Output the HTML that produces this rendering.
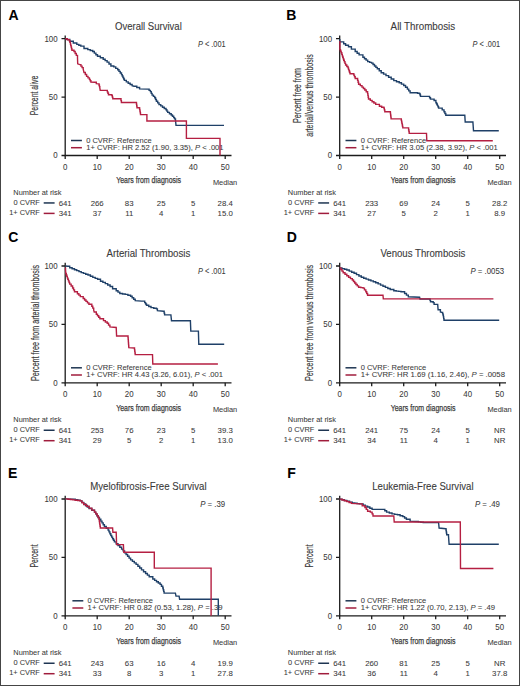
<!DOCTYPE html>
<html><head><meta charset="utf-8"><style>
html,body{margin:0;padding:0;background:#fff;}
body{width:520px;height:686px;overflow:hidden;position:relative;}
svg{position:absolute;left:0;top:0;display:block;}
text{font-family:"Liberation Sans",sans-serif;fill:#3a3a3a;stroke:#3a3a3a;stroke-width:0.06px;}
.s{font-size:8.0px;}
.l{font-size:8.1px;}
.t{font-size:10.3px;stroke-width:0.1px;}
.c{font-size:9.3px;}
.c2{font-size:10.6px;stroke-width:0.18px;}
.pv{font-size:8.6px;}
.tk{font-size:8.6px;}
.n{font-size:8.1px;}
.b{font-size:14px;font-weight:bold;fill:#000;}
.ax{stroke:#1c1c1c;stroke-width:1.3;fill:none;}
.cb{stroke:#1f4068;stroke-width:1.4;fill:none;stroke-linejoin:miter;}
.cr{stroke:#b51f42;stroke-width:1.4;fill:none;stroke-linejoin:miter;}
</style></head><body>
<svg width="520" height="686" viewBox="0 0 520 686">
<rect x="0.5" y="0.5" width="519" height="685" fill="#fff" stroke="#454545" stroke-width="1"/>

<text class="b" x="8.5" y="19.7">A</text>
<g transform="translate(0,0)"><path class="ax" d="M65.2,35.5V155.5H231.5"/>
<path class="ax" d="M61.5,38.7H65.2M61.5,97.1H65.2M61.5,155.5H65.2M65.2,155.5V158.9M97.2,155.5V158.9M129.2,155.5V158.9M161.2,155.5V158.9M193.2,155.5V158.9M225.2,155.5V158.9"/>
<text class="tk" x="57.6" y="41.5" text-anchor="end" textLength="13.18" lengthAdjust="spacingAndGlyphs">100</text>
<text class="tk" x="57.6" y="99.9" text-anchor="end" textLength="8.79" lengthAdjust="spacingAndGlyphs">50</text>
<text class="tk" x="57.6" y="158.3" text-anchor="end" textLength="4.39" lengthAdjust="spacingAndGlyphs">0</text>
<text class="tk" x="65.2" y="169.7" text-anchor="middle" textLength="4.39" lengthAdjust="spacingAndGlyphs">0</text>
<text class="tk" x="97.2" y="169.7" text-anchor="middle" textLength="8.79" lengthAdjust="spacingAndGlyphs">10</text>
<text class="tk" x="129.2" y="169.7" text-anchor="middle" textLength="8.79" lengthAdjust="spacingAndGlyphs">20</text>
<text class="tk" x="161.2" y="169.7" text-anchor="middle" textLength="8.79" lengthAdjust="spacingAndGlyphs">30</text>
<text class="tk" x="193.2" y="169.7" text-anchor="middle" textLength="8.79" lengthAdjust="spacingAndGlyphs">40</text>
<text class="tk" x="225.2" y="169.7" text-anchor="middle" textLength="8.79" lengthAdjust="spacingAndGlyphs">50</text>
<text class="c" x="116.2" y="183.4" textLength="64.9" lengthAdjust="spacingAndGlyphs" style="stroke-width:0.25px;font-size:9.7px">Years from diagnosis</text>
<text class="s" x="225.1" y="184.6" text-anchor="middle" textLength="24.27" lengthAdjust="spacingAndGlyphs">Median</text>
<text class="t" x="115" y="29.5" textLength="66.8" lengthAdjust="spacingAndGlyphs">Overall Survival</text>
<text class="pv" x="198" y="46.5" textLength="27.6" lengthAdjust="spacingAndGlyphs"><tspan font-style="italic">P</tspan> &lt; .001</text>
<path d="M71,140.5H81.9" stroke="#1e3552" stroke-width="1.5"/>
<path d="M71,147.7H81.9" stroke="#a01c3c" stroke-width="1.5"/>
<text class="l" x="86.2" y="142.9" textLength="65.4" lengthAdjust="spacingAndGlyphs">0 CVRF: Reference</text>
<text class="l" x="86.2" y="149.9" textLength="137.4" lengthAdjust="spacingAndGlyphs">1+ CVRF: HR 2.52 (1.90, 3.35), <tspan font-style="italic">P</tspan> &lt; .001</text>
<text class="s" x="13.3" y="195.1" textLength="48.11" lengthAdjust="spacingAndGlyphs">Number at risk</text>
<text class="s" x="39.8" y="205.2" text-anchor="end" textLength="26.32" lengthAdjust="spacingAndGlyphs">0 CVRF</text>
<text class="s" x="39.8" y="215.2" text-anchor="end" textLength="30.64" lengthAdjust="spacingAndGlyphs">1+ CVRF</text>
<path d="M43.7,202.95H54.6" stroke="#1e3552" stroke-width="1.5"/>
<path d="M43.7,213.4H54.6" stroke="#a01c3c" stroke-width="1.5"/>
<text class="n" x="65.2" y="205.5" text-anchor="middle" textLength="13.01" lengthAdjust="spacingAndGlyphs">641</text>
<text class="n" x="65.2" y="215.6" text-anchor="middle" textLength="13.01" lengthAdjust="spacingAndGlyphs">341</text>
<text class="n" x="97.2" y="205.5" text-anchor="middle" textLength="13.01" lengthAdjust="spacingAndGlyphs">266</text>
<text class="n" x="97.2" y="215.6" text-anchor="middle" textLength="8.68" lengthAdjust="spacingAndGlyphs">37</text>
<text class="n" x="129.2" y="205.5" text-anchor="middle" textLength="8.68" lengthAdjust="spacingAndGlyphs">83</text>
<text class="n" x="129.2" y="215.6" text-anchor="middle" textLength="8.1" lengthAdjust="spacingAndGlyphs">11</text>
<text class="n" x="161.2" y="205.5" text-anchor="middle" textLength="8.68" lengthAdjust="spacingAndGlyphs">25</text>
<text class="n" x="161.2" y="215.6" text-anchor="middle" textLength="4.34" lengthAdjust="spacingAndGlyphs">4</text>
<text class="n" x="193.2" y="205.5" text-anchor="middle" textLength="4.34" lengthAdjust="spacingAndGlyphs">5</text>
<text class="n" x="193.2" y="215.6" text-anchor="middle" textLength="4.34" lengthAdjust="spacingAndGlyphs">1</text>
<text class="n" x="225.2" y="205.5" text-anchor="middle" textLength="15.18" lengthAdjust="spacingAndGlyphs">28.4</text>
<text class="n" x="225.2" y="215.6" text-anchor="middle" textLength="15.18" lengthAdjust="spacingAndGlyphs">15.0</text></g>
<text class="c2" transform="translate(37.8,95.45) rotate(-90)" x="0" y="0" text-anchor="middle" textLength="39.6" lengthAdjust="spacingAndGlyphs">Percent alive</text>
<polyline class="cb" points="65.3,38.8 67.5,39.5 69.8,39.5 69.8,41.2 73.3,41.2 73.3,43 76.8,43 76.8,44.4 78.8,44.4 78.8,45.25 80.8,45.25 80.8,46.1 84,46.1 84,48.5 87.8,48.5 87.8,49.6 90.25,49.6 90.25,50.55 92.7,50.55 92.7,51.5 94.3,51.5 94.3,53.1 95.9,53.1 95.9,54.7 97.5,54.7 97.5,56.3 100.35,56.3 100.35,57.75 103.2,57.75 103.2,59.2 105.15,59.2 105.15,60.65 107.1,60.65 107.1,62.1 109,62.1 109,64.05 110.9,64.05 110.9,66 113.8,66 113.8,66.9 115.75,66.9 115.75,68.35 117.7,68.35 117.7,69.8 118.97,69.8 118.97,71.4 120.23,71.4 120.23,73 121.5,73 121.5,74.6 122.22,74.6 122.22,76.05 122.95,76.05 122.95,77.5 123.68,77.5 123.68,78.95 124.4,78.95 124.4,80.4 126.3,80.4 126.3,81.85 128.2,81.85 128.2,83.3 130.15,83.3 130.15,84.5 132.1,84.5 132.1,85.7 134,86.2 136.8,86.2 136.8,87.55 139.6,87.55 139.6,88.9 147.8,89.1 149.1,89.1 149.1,90.35 150.4,90.35 150.4,91.6 151.25,91.6 151.25,93.35 152.1,93.35 152.1,95.1 153.4,95.1 153.4,96.4 154.7,96.4 154.7,97.7 155.55,97.7 155.55,99.45 156.4,99.45 156.4,101.2 157.7,101.2 157.7,102.9 159,102.9 159,104.6 160.75,104.6 160.75,105.9 162.5,105.9 162.5,107.2 164.25,107.2 164.25,108.5 166,108.5 166,109.8 166.85,109.8 166.85,111.1 167.7,111.1 167.7,112.4 169.45,112.4 169.45,113.7 171.2,113.7 171.2,115 172.45,115 172.45,116.3 173.7,116.3 173.7,117.6 174.6,117.6 174.6,118.9 175.5,118.9 175.5,120.2 176,125.4 224,125.4"/>
<polyline class="cr" points="65.3,38.8 67.3,38.8 67.3,39.75 69.3,39.75 69.3,40.7 69.85,40.7 69.85,42.4 70.4,42.4 70.4,44.1 70.78,44.1 70.78,45.62 71.15,45.62 71.15,47.15 71.53,47.15 71.53,48.68 71.9,48.68 71.9,50.2 74,50.2 74,51.5 75.15,51.5 75.15,53.45 76.3,53.45 76.3,55.4 77.5,55.4 77.5,57.7 77.7,63.8 79.8,64.6 80.93,64.6 80.93,66.13 82.07,66.13 82.07,67.67 83.2,67.67 83.2,69.2 84,72.5 85.3,72.5 85.3,74.45 86.6,74.45 86.6,76.4 88,76.4 88,77.9 89.4,77.9 89.4,79.4 90.15,79.4 90.15,80.75 90.9,80.75 90.9,82.1 94.8,82.3 96.3,82.3 96.3,83.6 98.7,83.9 99.07,83.9 99.07,85.27 99.43,85.27 99.43,86.63 99.8,86.63 99.8,88 100.2,90.2 106.7,90.4 107.3,90.4 107.3,91.83 107.9,91.83 107.9,93.27 108.5,93.27 108.5,94.7 111.9,94.7 111.9,95.6 112.35,95.6 112.35,97.15 112.8,97.15 112.8,98.7 120.6,98.7 121,98.7 121,100.6 121.4,100.6 121.4,102.5 136.2,102.5 136.47,102.5 136.47,104.23 136.73,104.23 136.73,105.97 137,105.97 137,107.7 139.6,107.7 139.6,109.4 139.9,109.4 139.9,111.13 140.2,111.13 140.2,112.87 140.5,112.87 140.5,114.6 146.9,114.6 146.9,121 186.4,121 186.4,138.4 220,138.4 220,155.5"/>
<text class="b" x="286.2" y="20.3">B</text>
<g transform="translate(274.5,0)"><path class="ax" d="M65.2,35.5V155.5H231.5"/>
<path class="ax" d="M61.5,38.7H65.2M61.5,97.1H65.2M61.5,155.5H65.2M65.2,155.5V158.9M97.2,155.5V158.9M129.2,155.5V158.9M161.2,155.5V158.9M193.2,155.5V158.9M225.2,155.5V158.9"/>
<text class="tk" x="57.6" y="41.5" text-anchor="end" textLength="13.18" lengthAdjust="spacingAndGlyphs">100</text>
<text class="tk" x="57.6" y="99.9" text-anchor="end" textLength="8.79" lengthAdjust="spacingAndGlyphs">50</text>
<text class="tk" x="57.6" y="158.3" text-anchor="end" textLength="4.39" lengthAdjust="spacingAndGlyphs">0</text>
<text class="tk" x="65.2" y="169.7" text-anchor="middle" textLength="4.39" lengthAdjust="spacingAndGlyphs">0</text>
<text class="tk" x="97.2" y="169.7" text-anchor="middle" textLength="8.79" lengthAdjust="spacingAndGlyphs">10</text>
<text class="tk" x="129.2" y="169.7" text-anchor="middle" textLength="8.79" lengthAdjust="spacingAndGlyphs">20</text>
<text class="tk" x="161.2" y="169.7" text-anchor="middle" textLength="8.79" lengthAdjust="spacingAndGlyphs">30</text>
<text class="tk" x="193.2" y="169.7" text-anchor="middle" textLength="8.79" lengthAdjust="spacingAndGlyphs">40</text>
<text class="tk" x="225.2" y="169.7" text-anchor="middle" textLength="8.79" lengthAdjust="spacingAndGlyphs">50</text>
<text class="c" x="116.2" y="183.4" textLength="64.9" lengthAdjust="spacingAndGlyphs" style="stroke-width:0.25px;font-size:9.7px">Years from diagnosis</text>
<text class="s" x="225.1" y="184.6" text-anchor="middle" textLength="24.27" lengthAdjust="spacingAndGlyphs">Median</text>
<text class="t" x="116.1" y="29.5" textLength="64.6" lengthAdjust="spacingAndGlyphs">All Thrombosis</text>
<text class="pv" x="198" y="46.5" textLength="27.6" lengthAdjust="spacingAndGlyphs"><tspan font-style="italic">P</tspan> &lt; .001</text>
<path d="M71,140.5H81.9" stroke="#1e3552" stroke-width="1.5"/>
<path d="M71,147.7H81.9" stroke="#a01c3c" stroke-width="1.5"/>
<text class="l" x="86.2" y="142.9" textLength="65.4" lengthAdjust="spacingAndGlyphs">0 CVRF: Reference</text>
<text class="l" x="86.2" y="149.9" textLength="137" lengthAdjust="spacingAndGlyphs">1+ CVRF: HR 3.05 (2.38, 3.92), <tspan font-style="italic">P</tspan> &lt; .001</text>
<text class="s" x="13.3" y="195.1" textLength="48.11" lengthAdjust="spacingAndGlyphs">Number at risk</text>
<text class="s" x="39.8" y="205.2" text-anchor="end" textLength="26.32" lengthAdjust="spacingAndGlyphs">0 CVRF</text>
<text class="s" x="39.8" y="215.2" text-anchor="end" textLength="30.64" lengthAdjust="spacingAndGlyphs">1+ CVRF</text>
<path d="M43.7,202.95H54.6" stroke="#1e3552" stroke-width="1.5"/>
<path d="M43.7,213.4H54.6" stroke="#a01c3c" stroke-width="1.5"/>
<text class="n" x="65.2" y="205.5" text-anchor="middle" textLength="13.01" lengthAdjust="spacingAndGlyphs">641</text>
<text class="n" x="65.2" y="215.6" text-anchor="middle" textLength="13.01" lengthAdjust="spacingAndGlyphs">341</text>
<text class="n" x="97.2" y="205.5" text-anchor="middle" textLength="13.01" lengthAdjust="spacingAndGlyphs">233</text>
<text class="n" x="97.2" y="215.6" text-anchor="middle" textLength="8.68" lengthAdjust="spacingAndGlyphs">27</text>
<text class="n" x="129.2" y="205.5" text-anchor="middle" textLength="8.68" lengthAdjust="spacingAndGlyphs">69</text>
<text class="n" x="129.2" y="215.6" text-anchor="middle" textLength="4.34" lengthAdjust="spacingAndGlyphs">5</text>
<text class="n" x="161.2" y="205.5" text-anchor="middle" textLength="8.68" lengthAdjust="spacingAndGlyphs">24</text>
<text class="n" x="161.2" y="215.6" text-anchor="middle" textLength="4.34" lengthAdjust="spacingAndGlyphs">2</text>
<text class="n" x="193.2" y="205.5" text-anchor="middle" textLength="4.34" lengthAdjust="spacingAndGlyphs">5</text>
<text class="n" x="193.2" y="215.6" text-anchor="middle" textLength="4.34" lengthAdjust="spacingAndGlyphs">1</text>
<text class="n" x="225.2" y="205.5" text-anchor="middle" textLength="15.18" lengthAdjust="spacingAndGlyphs">28.2</text>
<text class="n" x="225.2" y="215.6" text-anchor="middle" textLength="10.84" lengthAdjust="spacingAndGlyphs">8.9</text></g>
<text class="c2" transform="translate(301,95.45) rotate(-90)" x="0" y="0" text-anchor="middle" textLength="55" lengthAdjust="spacingAndGlyphs">Percent free from</text>
<text class="c2" transform="translate(312.8,95.45) rotate(-90)" x="0" y="0" text-anchor="middle" textLength="82.6" lengthAdjust="spacingAndGlyphs">arterial/venous thrombosis</text>
<polyline class="cb" points="339.8,38.9 339.8,41.9 343.7,41.9 343.7,43.8 345.6,43.8 345.6,45.3 348.5,45.3 348.5,46.7 351.4,46.7 351.4,49.1 355.2,49.1 355.2,51.5 357.15,51.5 357.15,53.2 359.1,53.2 359.1,54.9 362.9,54.9 362.9,57.3 364.5,57.3 364.5,58.73 366.1,58.73 366.1,60.17 367.7,60.17 367.7,61.6 369.65,61.6 369.65,62.35 371.6,62.35 371.6,63.1 373.05,63.1 373.05,64.55 374.5,64.55 374.5,66 375.9,66 375.9,67.4 377.3,67.4 377.3,68.8 379.25,68.8 379.25,70.75 381.2,70.75 381.2,72.7 383.6,72.7 383.6,74.15 386,74.15 386,75.6 388.6,75.6 388.6,77.27 391.2,77.27 391.2,78.93 393.8,78.93 393.8,80.6 396.5,80.6 396.5,81.7 399.2,81.7 399.2,82.8 401.45,82.8 401.45,84.15 403.7,84.15 403.7,85.5 405.55,85.5 405.55,87.3 407.4,87.3 407.4,89.1 408.75,89.1 408.75,90.9 410.1,90.9 410.1,92.7 415.5,92.7 417.55,92.7 417.55,93.2 419.6,93.2 419.6,93.7 420.05,93.7 420.05,95.05 420.5,95.05 420.5,96.4 428.7,96.4 429.6,96.4 429.6,97.75 430.5,97.75 430.5,99.1 434.1,99.1 434.1,100.5 435.9,100.5 435.9,102.7 436.6,102.7 436.6,104.05 437.3,104.05 437.3,105.4 437.95,105.4 437.95,106.75 438.6,106.75 438.6,108.1 442.2,108.1 442.2,109.9 444,109.9 444,111.7 444.9,111.7 444.9,113.5 445.8,113.5 445.8,115.3 464.8,115.3 465.2,122 472.9,122 473.5,130.7 498.8,130.7"/>
<polyline class="cr" points="339.9,41 339.9,49.6 340.53,49.6 340.53,51.2 341.17,51.2 341.17,52.8 341.8,52.8 341.8,54.4 342.27,54.4 342.27,55.85 342.75,55.85 342.75,57.3 343.23,57.3 343.23,58.75 343.7,58.75 343.7,60.2 344.33,60.2 344.33,61.8 344.97,61.8 344.97,63.4 345.6,63.4 345.6,65 346.8,65 346.8,66.45 348,66.45 348,67.9 348.5,67.9 348.5,69.35 349,69.35 349,70.8 349.5,70.8 349.5,72.25 350,72.25 350,73.7 353.8,73.7 353.8,75.1 354.5,75.1 354.5,76.8 355.2,76.8 355.2,78.5 357.6,78.5 357.6,80.4 358.1,80.4 358.1,82.3 358.6,82.3 358.6,84.2 360.3,84.2 360.3,85.65 362,85.65 362,87.1 363.4,87.1 363.4,88.55 364.8,88.55 364.8,90 366.2,90 366.2,91.8 367.6,91.8 367.6,93.6 367.9,93.6 367.9,95.4 368.2,95.4 368.2,97.2 368.5,97.2 368.5,99 370.3,99 370.3,100.35 372.1,100.35 372.1,101.7 373.9,101.7 373.9,103.05 375.7,103.05 375.7,104.4 379.4,104.4 379.4,106.3 381.65,106.3 381.65,107.2 383.9,107.2 383.9,108.1 384.35,108.1 384.35,109.9 384.8,109.9 384.8,111.7 390.2,111.7 390.38,111.7 390.38,113.14 390.56,113.14 390.56,114.58 390.74,114.58 390.74,116.02 390.92,116.02 390.92,117.46 391.1,117.46 391.1,118.9 401,118.9 401.3,118.9 401.3,120.4 401.6,120.4 401.6,121.9 401.9,121.9 401.9,123.4 402.2,123.4 402.2,124.9 402.5,124.9 402.5,126.4 402.8,126.4 402.8,127.9 408.3,127.9 408.6,127.9 408.6,129.73 408.9,129.73 408.9,131.57 409.2,131.57 409.2,133.4 426.5,133.4 426.8,140.7 492.8,140.7"/>
<text class="b" x="8.2" y="242.3">C</text>
<g transform="translate(0,227.3)"><path class="ax" d="M65.2,35.5V155.5H231.5"/>
<path class="ax" d="M61.5,38.7H65.2M61.5,97.1H65.2M61.5,155.5H65.2M65.2,155.5V158.9M97.2,155.5V158.9M129.2,155.5V158.9M161.2,155.5V158.9M193.2,155.5V158.9M225.2,155.5V158.9"/>
<text class="tk" x="57.6" y="41.5" text-anchor="end" textLength="13.18" lengthAdjust="spacingAndGlyphs">100</text>
<text class="tk" x="57.6" y="99.9" text-anchor="end" textLength="8.79" lengthAdjust="spacingAndGlyphs">50</text>
<text class="tk" x="57.6" y="158.3" text-anchor="end" textLength="4.39" lengthAdjust="spacingAndGlyphs">0</text>
<text class="tk" x="65.2" y="169.7" text-anchor="middle" textLength="4.39" lengthAdjust="spacingAndGlyphs">0</text>
<text class="tk" x="97.2" y="169.7" text-anchor="middle" textLength="8.79" lengthAdjust="spacingAndGlyphs">10</text>
<text class="tk" x="129.2" y="169.7" text-anchor="middle" textLength="8.79" lengthAdjust="spacingAndGlyphs">20</text>
<text class="tk" x="161.2" y="169.7" text-anchor="middle" textLength="8.79" lengthAdjust="spacingAndGlyphs">30</text>
<text class="tk" x="193.2" y="169.7" text-anchor="middle" textLength="8.79" lengthAdjust="spacingAndGlyphs">40</text>
<text class="tk" x="225.2" y="169.7" text-anchor="middle" textLength="8.79" lengthAdjust="spacingAndGlyphs">50</text>
<text class="c" x="116.2" y="183.4" textLength="64.9" lengthAdjust="spacingAndGlyphs" style="stroke-width:0.25px;font-size:9.7px">Years from diagnosis</text>
<text class="s" x="225.1" y="184.6" text-anchor="middle" textLength="24.27" lengthAdjust="spacingAndGlyphs">Median</text>
<text class="t" x="106.5" y="29.5" textLength="83.8" lengthAdjust="spacingAndGlyphs">Arterial Thrombosis</text>
<text class="pv" x="198" y="46.5" textLength="27.6" lengthAdjust="spacingAndGlyphs"><tspan font-style="italic">P</tspan> &lt; .001</text>
<path d="M71,140.5H81.9" stroke="#1e3552" stroke-width="1.5"/>
<path d="M71,147.7H81.9" stroke="#a01c3c" stroke-width="1.5"/>
<text class="l" x="86.2" y="142.9" textLength="65.4" lengthAdjust="spacingAndGlyphs">0 CVRF: Reference</text>
<text class="l" x="86.2" y="149.9" textLength="136.7" lengthAdjust="spacingAndGlyphs">1+ CVRF: HR 4.43 (3.26, 6.01), <tspan font-style="italic">P</tspan> &lt; .001</text>
<text class="s" x="13.3" y="195.1" textLength="48.11" lengthAdjust="spacingAndGlyphs">Number at risk</text>
<text class="s" x="39.8" y="205.2" text-anchor="end" textLength="26.32" lengthAdjust="spacingAndGlyphs">0 CVRF</text>
<text class="s" x="39.8" y="215.2" text-anchor="end" textLength="30.64" lengthAdjust="spacingAndGlyphs">1+ CVRF</text>
<path d="M43.7,202.95H54.6" stroke="#1e3552" stroke-width="1.5"/>
<path d="M43.7,213.4H54.6" stroke="#a01c3c" stroke-width="1.5"/>
<text class="n" x="65.2" y="205.5" text-anchor="middle" textLength="13.01" lengthAdjust="spacingAndGlyphs">641</text>
<text class="n" x="65.2" y="215.6" text-anchor="middle" textLength="13.01" lengthAdjust="spacingAndGlyphs">341</text>
<text class="n" x="97.2" y="205.5" text-anchor="middle" textLength="13.01" lengthAdjust="spacingAndGlyphs">253</text>
<text class="n" x="97.2" y="215.6" text-anchor="middle" textLength="8.68" lengthAdjust="spacingAndGlyphs">29</text>
<text class="n" x="129.2" y="205.5" text-anchor="middle" textLength="8.68" lengthAdjust="spacingAndGlyphs">76</text>
<text class="n" x="129.2" y="215.6" text-anchor="middle" textLength="4.34" lengthAdjust="spacingAndGlyphs">5</text>
<text class="n" x="161.2" y="205.5" text-anchor="middle" textLength="8.68" lengthAdjust="spacingAndGlyphs">23</text>
<text class="n" x="161.2" y="215.6" text-anchor="middle" textLength="4.34" lengthAdjust="spacingAndGlyphs">2</text>
<text class="n" x="193.2" y="205.5" text-anchor="middle" textLength="4.34" lengthAdjust="spacingAndGlyphs">5</text>
<text class="n" x="193.2" y="215.6" text-anchor="middle" textLength="4.34" lengthAdjust="spacingAndGlyphs">1</text>
<text class="n" x="225.2" y="205.5" text-anchor="middle" textLength="15.18" lengthAdjust="spacingAndGlyphs">39.3</text>
<text class="n" x="225.2" y="215.6" text-anchor="middle" textLength="15.18" lengthAdjust="spacingAndGlyphs">13.0</text></g>
<text class="c2" transform="translate(38.5,323) rotate(-90)" x="0" y="0" text-anchor="middle" textLength="116.2" lengthAdjust="spacingAndGlyphs">Percent free from arterial thrombosis</text>
<polyline class="cb" points="65.4,266 67.8,266.3 69.7,266.3 69.7,267.8 72.1,267.8 72.1,268.75 74.5,268.75 74.5,269.7 76.73,269.7 76.73,270.67 78.97,270.67 78.97,271.63 81.2,271.63 81.2,272.6 83.47,272.6 83.47,273.4 85.73,273.4 85.73,274.2 88,274.2 88,275 90.4,275 90.4,276.2 92.8,276.2 92.8,277.4 95.2,277.4 95.2,278.35 97.6,278.35 97.6,279.3 100.5,279.3 100.5,281.2 102.9,281.2 102.9,282.4 105.3,282.4 105.3,283.6 107.7,283.6 107.7,285.05 110.1,285.05 110.1,286.5 112.6,286.5 112.6,288.8 116.2,288.8 116.2,290.8 118,290.8 118,292.15 119.8,292.15 119.8,293.5 122.5,293.5 122.5,293.95 125.2,293.95 125.2,294.4 127.9,294.4 127.9,295.3 130.6,295.3 130.6,296.2 132.13,296.2 132.13,297.7 133.67,297.7 133.67,299.2 135.2,299.2 135.2,300.7 141.5,301.1 144.7,301.1 144.7,302.6 145.6,302.6 145.6,303.95 146.5,303.95 146.5,305.3 148.75,305.3 148.75,306.45 151,306.45 151,307.6 153.75,307.6 153.75,308.25 156.5,308.25 156.5,308.9 157.4,308.9 157.4,310.7 163.7,311.3 164.15,311.3 164.15,313.1 164.6,313.1 164.6,314.9 170.9,314.9 171.5,320.7 190.4,320.7 190.8,331.1 198.4,331.1 198.8,344.2 224.2,344.2"/>
<polyline class="cr" points="65.5,267.5 65.5,269.2 65.8,273.5 66.3,273.5 66.3,274.95 66.8,274.95 66.8,276.4 67.3,276.4 67.3,277.85 67.8,277.85 67.8,279.3 68.43,279.3 68.43,280.9 69.07,280.9 69.07,282.5 69.7,282.5 69.7,284.1 71.15,284.1 71.15,286.05 72.6,286.05 72.6,288 73.55,288 73.55,289.9 74.5,289.9 74.5,291.8 77.4,291.8 77.4,293.7 78.85,293.7 78.85,295.15 80.3,295.15 80.3,296.6 83.2,296.6 83.2,298.5 84.6,298.5 84.6,299.95 86,299.95 86,301.4 87.45,301.4 87.45,302.85 88.9,302.85 88.9,304.3 91.8,304.3 91.8,306.2 92.75,306.2 92.75,308.15 93.7,308.15 93.7,310.1 94.2,312 96.3,312 96.3,314.3 97.5,314.3 97.5,315.8 98.7,315.8 98.7,317.3 99.9,317.3 99.9,318.8 103.5,318.8 103.5,320.6 105.35,320.6 105.35,321.95 107.2,321.95 107.2,323.3 108.55,323.3 108.55,325.1 109.9,325.1 109.9,326.9 116.2,327.5 116.6,336 127.9,336 128.03,336 128.03,337.67 128.16,337.67 128.16,339.34 128.29,339.34 128.29,341.01 128.41,341.01 128.41,342.69 128.54,342.69 128.54,344.36 128.67,344.36 128.67,346.03 128.8,346.03 128.8,347.7 134.3,348 134.53,348 134.53,349.65 134.75,349.65 134.75,351.3 134.97,351.3 134.97,352.95 135.2,352.95 135.2,354.6 152.5,354.6 152.8,364 217.9,364"/>
<text class="b" x="286.8" y="242.2">D</text>
<g transform="translate(274.5,227.3)"><path class="ax" d="M65.2,35.5V155.5H231.5"/>
<path class="ax" d="M61.5,38.7H65.2M61.5,97.1H65.2M61.5,155.5H65.2M65.2,155.5V158.9M97.2,155.5V158.9M129.2,155.5V158.9M161.2,155.5V158.9M193.2,155.5V158.9M225.2,155.5V158.9"/>
<text class="tk" x="57.6" y="41.5" text-anchor="end" textLength="13.18" lengthAdjust="spacingAndGlyphs">100</text>
<text class="tk" x="57.6" y="99.9" text-anchor="end" textLength="8.79" lengthAdjust="spacingAndGlyphs">50</text>
<text class="tk" x="57.6" y="158.3" text-anchor="end" textLength="4.39" lengthAdjust="spacingAndGlyphs">0</text>
<text class="tk" x="65.2" y="169.7" text-anchor="middle" textLength="4.39" lengthAdjust="spacingAndGlyphs">0</text>
<text class="tk" x="97.2" y="169.7" text-anchor="middle" textLength="8.79" lengthAdjust="spacingAndGlyphs">10</text>
<text class="tk" x="129.2" y="169.7" text-anchor="middle" textLength="8.79" lengthAdjust="spacingAndGlyphs">20</text>
<text class="tk" x="161.2" y="169.7" text-anchor="middle" textLength="8.79" lengthAdjust="spacingAndGlyphs">30</text>
<text class="tk" x="193.2" y="169.7" text-anchor="middle" textLength="8.79" lengthAdjust="spacingAndGlyphs">40</text>
<text class="tk" x="225.2" y="169.7" text-anchor="middle" textLength="8.79" lengthAdjust="spacingAndGlyphs">50</text>
<text class="c" x="116.2" y="183.4" textLength="64.9" lengthAdjust="spacingAndGlyphs" style="stroke-width:0.25px;font-size:9.7px">Years from diagnosis</text>
<text class="s" x="225.1" y="184.6" text-anchor="middle" textLength="24.27" lengthAdjust="spacingAndGlyphs">Median</text>
<text class="t" x="105.9" y="29.5" textLength="85" lengthAdjust="spacingAndGlyphs">Venous Thrombosis</text>
<text class="pv" x="196" y="46.5" textLength="33.6" lengthAdjust="spacingAndGlyphs"><tspan font-style="italic">P</tspan> = .0053</text>
<path d="M71,140.5H81.9" stroke="#1e3552" stroke-width="1.5"/>
<path d="M71,147.7H81.9" stroke="#a01c3c" stroke-width="1.5"/>
<text class="l" x="86.2" y="142.9" textLength="65.4" lengthAdjust="spacingAndGlyphs">0 CVRF: Reference</text>
<text class="l" x="86.2" y="149.9" textLength="144.3" lengthAdjust="spacingAndGlyphs">1+ CVRF: HR 1.69 (1.16, 2.46), <tspan font-style="italic">P</tspan> = .0058</text>
<text class="s" x="13.3" y="195.1" textLength="48.11" lengthAdjust="spacingAndGlyphs">Number at risk</text>
<text class="s" x="39.8" y="205.2" text-anchor="end" textLength="26.32" lengthAdjust="spacingAndGlyphs">0 CVRF</text>
<text class="s" x="39.8" y="215.2" text-anchor="end" textLength="30.64" lengthAdjust="spacingAndGlyphs">1+ CVRF</text>
<path d="M43.7,202.95H54.6" stroke="#1e3552" stroke-width="1.5"/>
<path d="M43.7,213.4H54.6" stroke="#a01c3c" stroke-width="1.5"/>
<text class="n" x="65.2" y="205.5" text-anchor="middle" textLength="13.01" lengthAdjust="spacingAndGlyphs">641</text>
<text class="n" x="65.2" y="215.6" text-anchor="middle" textLength="13.01" lengthAdjust="spacingAndGlyphs">341</text>
<text class="n" x="97.2" y="205.5" text-anchor="middle" textLength="13.01" lengthAdjust="spacingAndGlyphs">241</text>
<text class="n" x="97.2" y="215.6" text-anchor="middle" textLength="8.68" lengthAdjust="spacingAndGlyphs">34</text>
<text class="n" x="129.2" y="205.5" text-anchor="middle" textLength="8.68" lengthAdjust="spacingAndGlyphs">75</text>
<text class="n" x="129.2" y="215.6" text-anchor="middle" textLength="8.1" lengthAdjust="spacingAndGlyphs">11</text>
<text class="n" x="161.2" y="205.5" text-anchor="middle" textLength="8.68" lengthAdjust="spacingAndGlyphs">24</text>
<text class="n" x="161.2" y="215.6" text-anchor="middle" textLength="4.34" lengthAdjust="spacingAndGlyphs">4</text>
<text class="n" x="193.2" y="205.5" text-anchor="middle" textLength="4.34" lengthAdjust="spacingAndGlyphs">5</text>
<text class="n" x="193.2" y="215.6" text-anchor="middle" textLength="4.34" lengthAdjust="spacingAndGlyphs">1</text>
<text class="n" x="225.2" y="205.5" text-anchor="middle" textLength="11.27" lengthAdjust="spacingAndGlyphs">NR</text>
<text class="n" x="225.2" y="215.6" text-anchor="middle" textLength="11.27" lengthAdjust="spacingAndGlyphs">NR</text></g>
<text class="c2" transform="translate(313.2,323) rotate(-90)" x="0" y="0" text-anchor="middle" textLength="116.2" lengthAdjust="spacingAndGlyphs">Percent free from venous thrombosis</text>
<polyline class="cb" points="339.6,267.9 342,267.9 342,268.6 344.4,268.6 344.4,269.3 346.8,269.3 346.8,270 349.23,270 349.23,271.1 351.67,271.1 351.67,272.2 354.1,272.2 354.1,273.3 356.5,273.3 356.5,274.63 358.9,274.63 358.9,275.97 361.3,275.97 361.3,277.3 363.7,277.3 363.7,278.2 366.1,278.2 366.1,279.1 368.5,279.1 368.5,280 370.9,280 370.9,280.9 373.3,280.9 373.3,281.8 375.7,281.8 375.7,282.7 378.13,282.7 378.13,283.9 380.57,283.9 380.57,285.1 383,285.1 383,286.3 385.4,286.3 385.4,287.37 387.8,287.37 387.8,288.43 390.2,288.43 390.2,289.5 393.8,289.5 393.8,290.8 396.2,290.8 396.2,291.1 398.6,291.1 398.6,291.4 401,291.4 401,291.7 404.6,291.7 404.6,293.5 406.45,293.5 406.45,295.15 408.3,295.15 408.3,296.8 419.6,297.2 420,299 429.6,299 430.05,299 430.05,300.35 430.5,300.35 430.5,301.7 433.2,301.7 433.2,302.6 434.1,302.6 434.1,304.4 437.7,304.4 438.1,309.8 439.5,309.8 440.4,309.8 440.4,312 442.2,312.5 442.65,312.5 442.65,313.85 443.1,313.85 443.1,315.2 443.4,315.2 443.4,316.9 443.7,316.9 443.7,318.6 444,318.6 444,320.3 499.2,320.3"/>
<polyline class="cr" points="339.6,267.9 340.8,267.9 340.8,269.5 342,269.5 342,271.1 343.2,271.1 343.2,272.7 345,272.7 345,274.23 346.8,274.23 346.8,275.77 348.6,275.77 348.6,277.3 350.45,277.3 350.45,278.65 352.3,278.65 352.3,280 353.5,280 353.5,281.5 354.7,281.5 354.7,283 355.9,283 355.9,284.5 357.25,284.5 357.25,285.85 358.6,285.85 358.6,287.2 360.85,287.2 360.85,287.65 363.1,287.65 363.1,288.1 364.45,288.1 364.45,289.9 365.8,289.9 365.8,291.7 366.7,291.7 366.7,293.5 367.6,293.5 367.6,295.3 383,295.3 383.3,298.9 493.4,298.9"/>
<text class="b" x="8" y="477.7">E</text>
<g transform="translate(0,460.3)"><path class="ax" d="M65.2,35.5V155.5H231.5"/>
<path class="ax" d="M61.5,38.7H65.2M61.5,97.1H65.2M61.5,155.5H65.2M65.2,155.5V158.9M97.2,155.5V158.9M129.2,155.5V158.9M161.2,155.5V158.9M193.2,155.5V158.9M225.2,155.5V158.9"/>
<text class="tk" x="57.6" y="41.5" text-anchor="end" textLength="13.18" lengthAdjust="spacingAndGlyphs">100</text>
<text class="tk" x="57.6" y="99.9" text-anchor="end" textLength="8.79" lengthAdjust="spacingAndGlyphs">50</text>
<text class="tk" x="57.6" y="158.3" text-anchor="end" textLength="4.39" lengthAdjust="spacingAndGlyphs">0</text>
<text class="tk" x="65.2" y="169.7" text-anchor="middle" textLength="4.39" lengthAdjust="spacingAndGlyphs">0</text>
<text class="tk" x="97.2" y="169.7" text-anchor="middle" textLength="8.79" lengthAdjust="spacingAndGlyphs">10</text>
<text class="tk" x="129.2" y="169.7" text-anchor="middle" textLength="8.79" lengthAdjust="spacingAndGlyphs">20</text>
<text class="tk" x="161.2" y="169.7" text-anchor="middle" textLength="8.79" lengthAdjust="spacingAndGlyphs">30</text>
<text class="tk" x="193.2" y="169.7" text-anchor="middle" textLength="8.79" lengthAdjust="spacingAndGlyphs">40</text>
<text class="tk" x="225.2" y="169.7" text-anchor="middle" textLength="8.79" lengthAdjust="spacingAndGlyphs">50</text>
<text class="c" x="116.2" y="183.4" textLength="64.9" lengthAdjust="spacingAndGlyphs" style="stroke-width:0.25px;font-size:9.7px">Years from diagnosis</text>
<text class="s" x="225.1" y="184.6" text-anchor="middle" textLength="24.27" lengthAdjust="spacingAndGlyphs">Median</text>
<text class="t" x="90.25" y="29.5" textLength="116.3" lengthAdjust="spacingAndGlyphs">Myelofibrosis-Free Survival</text>
<text class="pv" x="200.2" y="46.5" textLength="25" lengthAdjust="spacingAndGlyphs"><tspan font-style="italic">P</tspan> = .39</text>
<path d="M72.4,140.5H83.3" stroke="#1e3552" stroke-width="1.5"/>
<path d="M72.4,147.7H83.3" stroke="#a01c3c" stroke-width="1.5"/>
<text class="l" x="87.6" y="142.9" textLength="65.4" lengthAdjust="spacingAndGlyphs">0 CVRF: Reference</text>
<text class="l" x="87.6" y="149.9" textLength="134.9" lengthAdjust="spacingAndGlyphs">1+ CVRF: HR 0.82 (0.53, 1.28), <tspan font-style="italic">P</tspan> = .39</text>
<text class="s" x="13.3" y="195.1" textLength="48.11" lengthAdjust="spacingAndGlyphs">Number at risk</text>
<text class="s" x="39.8" y="205.2" text-anchor="end" textLength="26.32" lengthAdjust="spacingAndGlyphs">0 CVRF</text>
<text class="s" x="39.8" y="215.2" text-anchor="end" textLength="30.64" lengthAdjust="spacingAndGlyphs">1+ CVRF</text>
<path d="M43.7,202.95H54.6" stroke="#1e3552" stroke-width="1.5"/>
<path d="M43.7,213.4H54.6" stroke="#a01c3c" stroke-width="1.5"/>
<text class="n" x="65.2" y="205.5" text-anchor="middle" textLength="13.01" lengthAdjust="spacingAndGlyphs">641</text>
<text class="n" x="65.2" y="215.6" text-anchor="middle" textLength="13.01" lengthAdjust="spacingAndGlyphs">341</text>
<text class="n" x="97.2" y="205.5" text-anchor="middle" textLength="13.01" lengthAdjust="spacingAndGlyphs">243</text>
<text class="n" x="97.2" y="215.6" text-anchor="middle" textLength="8.68" lengthAdjust="spacingAndGlyphs">33</text>
<text class="n" x="129.2" y="205.5" text-anchor="middle" textLength="8.68" lengthAdjust="spacingAndGlyphs">63</text>
<text class="n" x="129.2" y="215.6" text-anchor="middle" textLength="4.34" lengthAdjust="spacingAndGlyphs">8</text>
<text class="n" x="161.2" y="205.5" text-anchor="middle" textLength="8.68" lengthAdjust="spacingAndGlyphs">16</text>
<text class="n" x="161.2" y="215.6" text-anchor="middle" textLength="4.34" lengthAdjust="spacingAndGlyphs">3</text>
<text class="n" x="193.2" y="205.5" text-anchor="middle" textLength="4.34" lengthAdjust="spacingAndGlyphs">4</text>
<text class="n" x="193.2" y="215.6" text-anchor="middle" textLength="4.34" lengthAdjust="spacingAndGlyphs">1</text>
<text class="n" x="225.2" y="205.5" text-anchor="middle" textLength="15.18" lengthAdjust="spacingAndGlyphs">19.9</text>
<text class="n" x="225.2" y="215.6" text-anchor="middle" textLength="15.18" lengthAdjust="spacingAndGlyphs">27.8</text></g>
<text class="c2" transform="translate(37.8,555.9) rotate(-90)" x="0" y="0" text-anchor="middle" textLength="23.2" lengthAdjust="spacingAndGlyphs">Percent</text>
<polyline class="cb" points="65.6,498.9 72.8,499.1 75.23,499.1 75.23,499.7 77.67,499.7 77.67,500.3 80.1,500.3 80.1,500.9 81.9,500.9 81.9,502.4 83.7,502.4 83.7,503.9 85.5,503.9 85.5,505.43 87.3,505.43 87.3,506.97 89.1,506.97 89.1,508.5 91.8,508.5 91.8,510.3 94.5,510.3 94.5,512.1 95.7,512.1 95.7,513.9 96.9,513.9 96.9,515.7 98.1,515.7 98.1,517.5 99.45,517.5 99.45,519.3 100.8,519.3 100.8,521.1 102,521.1 102,522.9 103.2,522.9 103.2,524.7 104.4,524.7 104.4,526.5 106.25,526.5 106.25,528.3 108.1,528.3 108.1,530.1 109,530.1 109,531.9 109.9,531.9 109.9,533.7 110.8,533.7 110.8,535.5 111.7,535.5 111.7,537.1 112.6,537.1 112.6,538.7 113.5,538.7 113.5,540.3 114.4,540.3 114.4,541.9 116.2,541.9 116.2,543.7 118,543.7 118,545.5 119.8,545.5 119.8,547.3 121.6,547.3 121.6,549.1 123.1,549.1 123.1,550.9 124.6,550.9 124.6,552.7 126.1,552.7 126.1,554.5 127.6,554.5 127.6,556.3 129.1,556.3 129.1,558.1 130.6,558.1 130.6,559.9 132.43,559.9 132.43,561.4 134.27,561.4 134.27,562.9 136.1,562.9 136.1,564.4 137.9,564.4 137.9,566.23 139.7,566.23 139.7,568.07 141.5,568.07 141.5,569.9 143.55,569.9 143.55,571.7 145.6,571.7 145.6,573.5 147.4,573.5 147.4,575.15 149.2,575.15 149.2,576.8 152.8,576.8 152.8,579 154.65,579 154.65,580.35 156.5,580.35 156.5,581.7 158.3,581.7 158.3,583.05 160.1,583.05 160.1,584.4 161.45,584.4 161.45,586.2 162.8,586.2 162.8,588 163.23,588 163.23,589.7 163.67,589.7 163.67,591.4 164.1,591.4 164.1,593.1 175.4,593.1 176,596.1 179.1,596.1 179.6,599.2 218.3,599.2 218.3,615.8"/>
<polyline class="cr" points="65.6,498.9 68.02,498.9 68.02,499.23 70.43,499.23 70.43,499.57 72.85,499.57 72.85,499.9 75.27,499.9 75.27,500.23 77.68,500.23 77.68,500.57 80.1,500.57 80.1,500.9 81.9,500.9 81.9,502.7 83.7,502.7 83.7,504.5 86.4,504.5 86.4,506.3 89.1,506.3 89.1,508.1 91.8,508.1 91.8,510.1 94.5,510.1 94.5,512.1 95.85,512.1 95.85,513.9 97.2,513.9 97.2,515.7 98.1,515.7 98.1,517.5 99,517.5 99,519.3 99.26,519.3 99.26,521.04 99.52,521.04 99.52,522.78 99.78,522.78 99.78,524.52 100.04,524.52 100.04,526.26 100.3,526.26 100.3,528 112.6,528 112.9,532.3 116.2,532.3 116.6,544.6 123.4,544.6 123.8,552.2 154.3,552.2 154.3,568.1 211.1,568.1 211.1,615.8"/>
<text class="b" x="287.2" y="478.2">F</text>
<g transform="translate(274.5,460.3)"><path class="ax" d="M65.2,35.5V155.5H231.5"/>
<path class="ax" d="M61.5,38.7H65.2M61.5,97.1H65.2M61.5,155.5H65.2M65.2,155.5V158.9M97.2,155.5V158.9M129.2,155.5V158.9M161.2,155.5V158.9M193.2,155.5V158.9M225.2,155.5V158.9"/>
<text class="tk" x="57.6" y="41.5" text-anchor="end" textLength="13.18" lengthAdjust="spacingAndGlyphs">100</text>
<text class="tk" x="57.6" y="99.9" text-anchor="end" textLength="8.79" lengthAdjust="spacingAndGlyphs">50</text>
<text class="tk" x="57.6" y="158.3" text-anchor="end" textLength="4.39" lengthAdjust="spacingAndGlyphs">0</text>
<text class="tk" x="65.2" y="169.7" text-anchor="middle" textLength="4.39" lengthAdjust="spacingAndGlyphs">0</text>
<text class="tk" x="97.2" y="169.7" text-anchor="middle" textLength="8.79" lengthAdjust="spacingAndGlyphs">10</text>
<text class="tk" x="129.2" y="169.7" text-anchor="middle" textLength="8.79" lengthAdjust="spacingAndGlyphs">20</text>
<text class="tk" x="161.2" y="169.7" text-anchor="middle" textLength="8.79" lengthAdjust="spacingAndGlyphs">30</text>
<text class="tk" x="193.2" y="169.7" text-anchor="middle" textLength="8.79" lengthAdjust="spacingAndGlyphs">40</text>
<text class="tk" x="225.2" y="169.7" text-anchor="middle" textLength="8.79" lengthAdjust="spacingAndGlyphs">50</text>
<text class="c" x="116.2" y="183.4" textLength="64.9" lengthAdjust="spacingAndGlyphs" style="stroke-width:0.25px;font-size:9.7px">Years from diagnosis</text>
<text class="s" x="225.1" y="184.6" text-anchor="middle" textLength="24.27" lengthAdjust="spacingAndGlyphs">Median</text>
<text class="t" x="97.75" y="29.5" textLength="101.3" lengthAdjust="spacingAndGlyphs">Leukemia-Free Survival</text>
<text class="pv" x="200.4" y="46.5" textLength="25" lengthAdjust="spacingAndGlyphs"><tspan font-style="italic">P</tspan> = .49</text>
<path d="M71,140.5H81.9" stroke="#1e3552" stroke-width="1.5"/>
<path d="M71,147.7H81.9" stroke="#a01c3c" stroke-width="1.5"/>
<text class="l" x="86.2" y="142.9" textLength="65.4" lengthAdjust="spacingAndGlyphs">0 CVRF: Reference</text>
<text class="l" x="86.2" y="149.9" textLength="134.3" lengthAdjust="spacingAndGlyphs">1+ CVRF: HR 1.22 (0.70, 2.13), <tspan font-style="italic">P</tspan> = .49</text>
<text class="s" x="13.3" y="195.1" textLength="48.11" lengthAdjust="spacingAndGlyphs">Number at risk</text>
<text class="s" x="39.8" y="205.2" text-anchor="end" textLength="26.32" lengthAdjust="spacingAndGlyphs">0 CVRF</text>
<text class="s" x="39.8" y="215.2" text-anchor="end" textLength="30.64" lengthAdjust="spacingAndGlyphs">1+ CVRF</text>
<path d="M43.7,202.95H54.6" stroke="#1e3552" stroke-width="1.5"/>
<path d="M43.7,213.4H54.6" stroke="#a01c3c" stroke-width="1.5"/>
<text class="n" x="65.2" y="205.5" text-anchor="middle" textLength="13.01" lengthAdjust="spacingAndGlyphs">641</text>
<text class="n" x="65.2" y="215.6" text-anchor="middle" textLength="13.01" lengthAdjust="spacingAndGlyphs">341</text>
<text class="n" x="97.2" y="205.5" text-anchor="middle" textLength="13.01" lengthAdjust="spacingAndGlyphs">260</text>
<text class="n" x="97.2" y="215.6" text-anchor="middle" textLength="8.68" lengthAdjust="spacingAndGlyphs">36</text>
<text class="n" x="129.2" y="205.5" text-anchor="middle" textLength="8.68" lengthAdjust="spacingAndGlyphs">81</text>
<text class="n" x="129.2" y="215.6" text-anchor="middle" textLength="8.1" lengthAdjust="spacingAndGlyphs">11</text>
<text class="n" x="161.2" y="205.5" text-anchor="middle" textLength="8.68" lengthAdjust="spacingAndGlyphs">25</text>
<text class="n" x="161.2" y="215.6" text-anchor="middle" textLength="4.34" lengthAdjust="spacingAndGlyphs">4</text>
<text class="n" x="193.2" y="205.5" text-anchor="middle" textLength="4.34" lengthAdjust="spacingAndGlyphs">5</text>
<text class="n" x="193.2" y="215.6" text-anchor="middle" textLength="4.34" lengthAdjust="spacingAndGlyphs">1</text>
<text class="n" x="225.2" y="205.5" text-anchor="middle" textLength="11.27" lengthAdjust="spacingAndGlyphs">NR</text>
<text class="n" x="225.2" y="215.6" text-anchor="middle" textLength="15.18" lengthAdjust="spacingAndGlyphs">37.8</text></g>
<text class="c2" transform="translate(312.6,555.9) rotate(-90)" x="0" y="0" text-anchor="middle" textLength="23.2" lengthAdjust="spacingAndGlyphs">Percent</text>
<polyline class="cb" points="339.6,499.1 342,499.1 342,499.8 344.4,499.8 344.4,500.5 346.8,500.5 346.8,501.2 349.55,501.2 349.55,502.1 352.3,502.1 352.3,503 354.7,503 354.7,503.3 357.1,503.3 357.1,503.6 359.5,503.6 359.5,503.9 363.1,503.9 363.1,505.2 365.35,505.2 365.35,506.1 367.6,506.1 367.6,507 369.85,507 369.85,508.2 372.1,508.2 372.1,509.4 383,509.4 384.8,509.4 384.8,510.75 386.6,510.75 386.6,512.1 389.3,512.1 389.3,513 392,513 392,513.9 394.7,513.9 394.7,514.35 397.4,514.35 397.4,514.8 400.1,514.8 400.1,515.7 402.8,515.7 402.8,516.6 404.6,516.6 404.6,517.95 406.4,517.95 406.4,519.3 410.1,519.3 410.1,521.1 416,521.5 418.4,521.5 418.4,521.87 420.8,521.87 420.8,522.23 423.2,522.23 423.2,522.6 438.6,522.6 439.1,528 445.8,528.7 446.02,528.7 446.02,530.2 446.25,530.2 446.25,531.7 446.48,531.7 446.48,533.2 446.7,533.2 446.7,534.7 448.5,534.7 448.5,535.9 449.1,544.3 498.8,544.3"/>
<polyline class="cr" points="339.6,499.1 342,499.1 342,499.93 344.4,499.93 344.4,500.77 346.8,500.77 346.8,501.6 349.1,501.6 349.1,502.5 351.4,502.5 351.4,503.4 359.5,503.9 362.2,503.9 362.2,505.7 364.9,505.7 364.9,507.5 366.25,507.5 366.25,509.35 367.6,509.35 367.6,511.2 370.3,511.2 370.3,512.1 372.1,512.1 372.1,513.9 373,513.9 373,516 393.8,516 394.2,522 460.3,522 460.5,568.5 493.4,568.5"/>
</svg></body></html>
